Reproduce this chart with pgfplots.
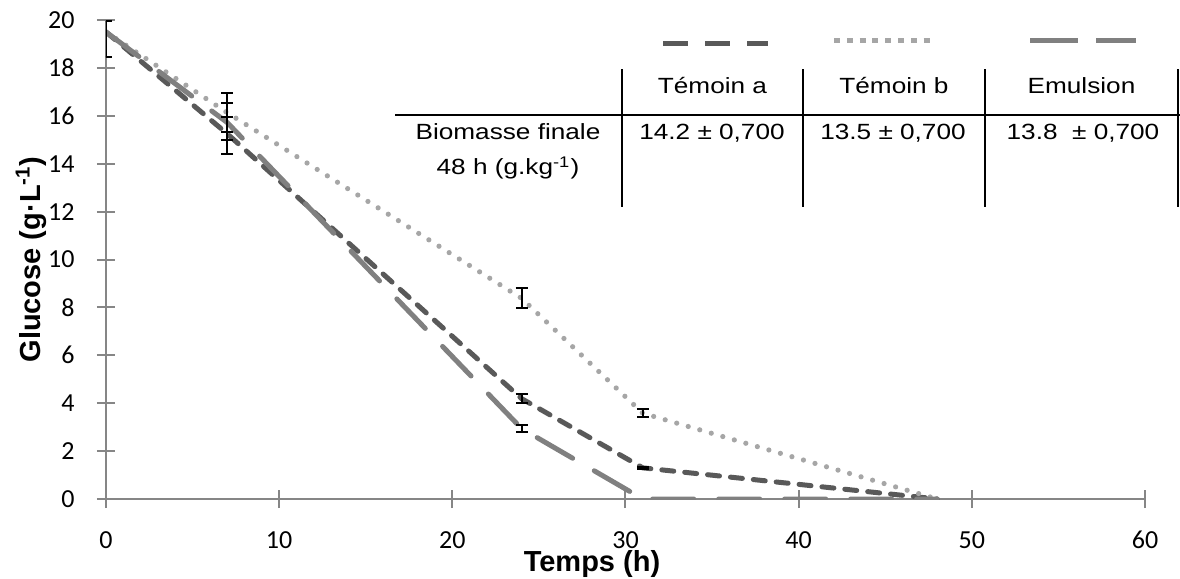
\documentclass[border=0pt]{standalone}
\usepackage{pgfplots}
\pgfplotsset{compat=1.18}
\usepackage{fontspec}
\setmainfont{Liberation Sans}
\newfontfamily\calibri{Carlito}
\definecolor{axisgray}{HTML}{868686}
\definecolor{cA}{HTML}{595959}
\definecolor{cB}{HTML}{A6A6A6}
\definecolor{cE}{HTML}{808080}
\tikzset{
  stA/.style={cA, line width=2.5pt, line cap=round, dash pattern=on 6pt off 5.5pt},
  stB/.style={cB, line width=2.6pt, line cap=round, dash pattern=on 0pt off 6pt},
  stE/.style={cE, line width=2.5pt, line cap=round, dash pattern=on 20.5pt off 12.5pt},
  tbl/.style={inner sep=0pt, font=\fontsize{11}{13}\selectfont},
}
\newcommand{\sx}[1]{\scalebox{1.19}[1]{#1}}
\begin{document}
\begin{tikzpicture}
\useasboundingbox (-53pt,-40pt) rectangle (537pt,249.5pt);
\begin{axis}[
  scale only axis, width=519.5pt, height=239.5pt,
  xmin=0, xmax=60, ymin=0, ymax=20,
  axis x line*=bottom, axis y line*=left,
  axis line style={axisgray, line width=1pt},
  xtick={0,10,...,60}, ytick={0,2,...,20},
  tick align=center, major tick length=9pt,
  tick style={axisgray, line width=1pt},
  /pgf/number format/assume math mode=true,
  tick label style={font=\calibri\fontsize{13}{15}\selectfont, black},
  xticklabel style={anchor=north, inner xsep=0pt, inner ysep=11.5pt},
  yticklabel style={anchor=east, inner ysep=0pt, inner xsep=11pt},
  every axis x label/.style={at={(axis description cs:0,0)}, xshift=243pt, yshift=-36pt, anchor=base},
  every axis y label/.style={at={(axis description cs:0,0.5)}, xshift=-37.5pt, anchor=center, rotate=90},
  label style={font=\bfseries\fontsize{14.5}{17}\selectfont},
  xlabel={Temps (h)},
  ylabel={Glucose (g·L\textsuperscript{-1})},
]
% Temoin a
\addplot[stA] coordinates {(0,19.5) (7,15.25) (24,4.19) (31,1.3) (48,0)};
% Temoin b
\addplot[stB] coordinates {(0,19.5) (7,16.13) (24,8.38) (31,3.58) (48,0)};
% Emulsion
\addplot[stE] coordinates {(0,19.5) (7,15.72) (24,2.94) (31,0) (48,0)};
% error bars
\addplot[draw=none, mark=none, forget plot,
  error bars/.cd, y dir=both, y explicit,
  error bar style={draw=black, line width=1pt, solid, line cap=butt},
  error mark=-,
  error mark options={rotate=90, draw=black, line width=1pt, mark size=3pt, solid}]
  coordinates {
  (0,19.5) += (0,0.45) -= (0,1.05)
  (7,15.18) +- (0,0.76)
  (7,15.78) +- (0,0.77)
  (7,16.15) +- (0,0.82)
  (24,8.38) +- (0,0.42)
  (24,4.19) +- (0,0.2)
  (24,2.94) +- (0,0.15)
  (31,3.58) +- (0,0.17)
  (31,1.3) +- (0,0.05)
  };
\end{axis}
% table
\draw[black, line width=1pt] (144.5pt,192pt) -- (537pt,192pt);
\foreach \xx in {258,348.5,439.5,536} {\draw[black, line width=1pt] (\xx pt,146pt) -- (\xx pt,215pt);}
\node[tbl, anchor=base] at (303.25pt,202.5pt) {\sx{Témoin a}};
\node[tbl, anchor=base] at (394pt,202.5pt) {\sx{Témoin b}};
\node[tbl, anchor=base] at (487.75pt,202.5pt) {\sx{Emulsion}};
\node[tbl, anchor=base] at (201pt,179.5pt) {\sx{Biomasse finale}};
\node[tbl, anchor=base] at (201pt,162pt) {\sx{48 h (g.kg\textsuperscript{-1})}};
\node[tbl, anchor=base] at (303pt,179.5pt) {\sx{14.2 ± 0,700}};
\node[tbl, anchor=base] at (393.5pt,179.5pt) {\sx{13.5 ± 0,700}};
\node[tbl, anchor=base] at (488.5pt,179.5pt) {\sx{13.8 \ ± 0,700}};
% legend samples
\draw[cA, line width=2.5pt, line cap=butt, dash pattern=on 12.5pt off 8.5pt] (278.5pt,227.5pt) -- (331pt,227.5pt);
\draw[cB, line width=2.5pt, line cap=butt, dash pattern=on 3pt off 3.4pt] (364pt,229pt) -- (415pt,229pt);
\draw[cE, line width=2.5pt, line cap=butt, dash pattern=on 24pt off 9pt] (462pt,229pt) -- (515pt,229pt);
\end{tikzpicture}
\end{document}
